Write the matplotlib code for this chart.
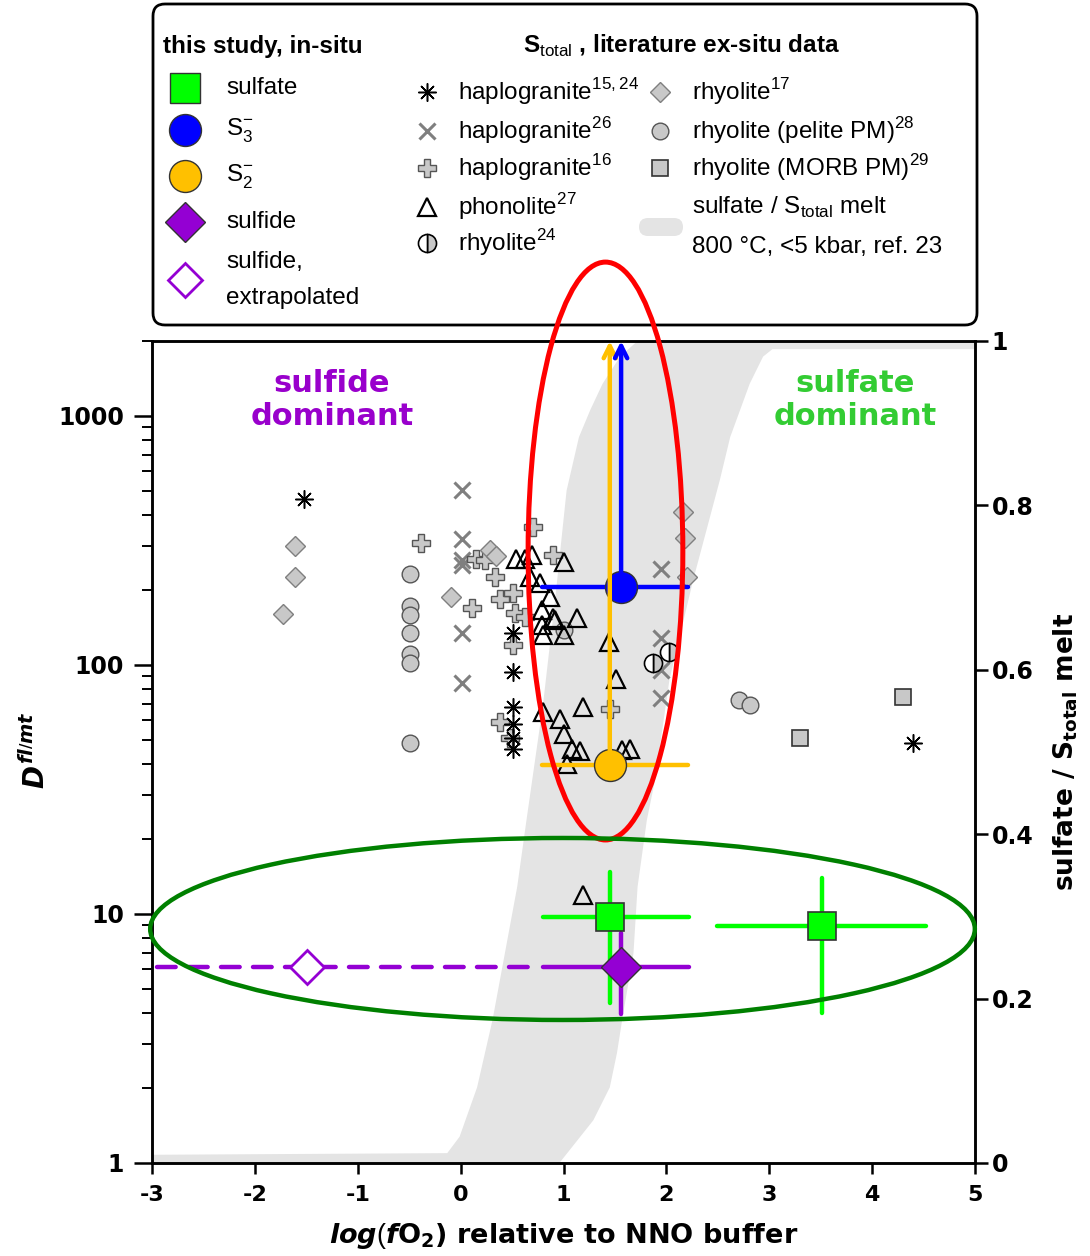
'''Sulfur fluid/melt partitioning vs oxygen fugacity (NNO buffer)'''

import matplotlib
matplotlib.use('Agg')
import matplotlib.pyplot as plt
from matplotlib import font_manager
from matplotlib.patches import Ellipse, FancyBboxPatch

# fonts: narrow sans for the legend if available
names = {f.name for f in font_manager.fontManager.ttflist}
if 'Liberation Sans Narrow' in names:
    LEG_FONT, LEG_SIZE = 'Liberation Sans Narrow', 21
else:
    LEG_FONT, LEG_SIZE = 'Liberation Sans', 17.5

plt.rcParams['mathtext.fontset'] = 'custom'
plt.rcParams['mathtext.rm'] = LEG_FONT
plt.rcParams['mathtext.it'] = 'DejaVu Sans:italic:bold'
plt.rcParams['mathtext.bf'] = 'DejaVu Sans:bold'

# ---- literature ex-situ data (log fO2 rel. NNO, D fl/mt) ----
hg1524_x = [-1.52, 0.51, 0.51, 0.51, 0.51, 0.51, 0.51, 4.40]
hg1524_y = [464, 135, 93.5, 68, 58, 51, 46, 48.6]

hg26_x = [0.01, 0.01, 0.01, 0.01, 0.01, 0.01, 1.95, 1.95, 1.95, 1.95]
hg26_y = [505, 321, 264, 252, 134, 84.5, 244, 128, 95.5, 73.5]

hg16_x = [-0.39, 0.15, 0.24, 0.33, 0.38, 0.51, 0.11, 0.53, 0.63, 0.51, 0.38, 0.48, 0.70, 0.90, 1.45]
hg16_y = [308, 266, 264, 225, 184, 194, 169, 161, 156, 120, 59, 51, 359, 277, 66.6]

phon_x = [0.54, 0.63, 0.69, 1.00, 0.67, 0.77, 0.87, 0.79, 0.90, 1.13, 0.79, 0.80, 1.00,
          1.44, 1.51, 1.19, 0.80, 0.97, 1.00, 1.08, 1.16, 1.57, 1.65, 1.03, 1.19, 0.92]
phon_y = [267, 267, 277, 258, 226, 213, 188, 166, 154, 154, 145, 132, 132,
          124, 87.6, 68, 65, 60.5, 53, 46, 45, 45.6, 45.9, 40, 11.9, 151]

rhy24_x = [1.87, 2.03]
rhy24_y = [102, 113]

rhy17_x = [-1.61, -1.61, -1.73, -0.09, 0.29, 0.34, 2.16, 2.18, 2.20]
rhy17_y = [301, 226, 160, 188, 290, 275, 413, 323, 225]

pel_x = [-0.49, -0.49, -0.49, -0.49, -0.49, -0.49, -0.49, 1.00, 2.71, 2.81]
pel_y = [231, 172, 159, 135, 111, 102, 48.5, 138, 72.3, 69]

morb_x = [4.30, 3.30]
morb_y = [74.6, 50.8]

# ---- this study, in-situ ----
s3_x, s3_y, s3_xlo, s3_xhi = 1.56, 206, 0.79, 2.21
s2_x, s2_y, s2_xlo, s2_xhi = 1.45, 39.7, 0.79, 2.21

sulfate_x = [1.45, 3.51]
sulfate_y = [9.7, 8.95]
sulfate_xlo = [0.80, 2.49]
sulfate_xhi = [2.22, 4.52]
sulfate_ylo = [4.38, 3.99]
sulfate_yhi = [14.8, 14.0]

sulfide_x, sulfide_y = 1.555, 6.14
sulfide_xlo, sulfide_xhi, sulfide_ylo, sulfide_yhi = 0.80, 2.22, 3.97, 8.41
extrap_x, extrap_y = -1.49, 6.14
extrap_xlo, extrap_xhi = -2.95, 0.67

# ---- sulfate / S_total melt band (ref. 23), right axis ----
band_left_x = [-3.0, -0.13, -0.01, 0.16, 0.31, 0.43, 0.55, 0.64, 0.80, 0.92, 1.03, 1.15, 1.26, 1.38, 1.55, 1.72]
band_left_f = [0.010, 0.012, 0.032, 0.092, 0.174, 0.255, 0.336, 0.417, 0.557, 0.687, 0.818, 0.883, 0.916, 0.948, 0.981, 1.0]
band_right_x = [5.0, 3.03, 2.94, 2.81, 2.62, 2.52, 2.26, 2.03, 1.89, 1.81, 1.72, 1.68, 1.57, 1.52, 1.45, 1.29, 0.96]
band_right_f = [0.990, 0.990, 0.981, 0.948, 0.883, 0.831, 0.709, 0.588, 0.466, 0.417, 0.336, 0.255, 0.174, 0.134, 0.092, 0.052, 0.0]

xticks = [-3, -2, -1, 0, 1, 2, 3, 4, 5]
yticks = [1, 10, 100, 1000]
rticks = [0, 0.2, 0.4, 0.6, 0.8, 1.0]
rtick_labels = ['0', '0.2', '0.4', '0.6', '0.8', '1']

GRAY = '#C8C8C8'
GREEN = '#00FF00'
BLUE = '#0000FF'
ORANGE = '#FFC000'
PURPLE = '#9400D3'

W, H = 1090, 1256
fig = plt.figure(figsize=(W / 100, H / 100), dpi=100)

# legend canvas in pixel coordinates
lax = fig.add_axes([0, 0, 1, 1], zorder=0)
lax.set_xlim(0, W)
lax.set_ylim(H, 0)
lax.axis('off')

ax = fig.add_axes([152 / W, 1 - 1163 / H, 823 / W, 822 / H], zorder=2)
ax.patch.set_visible(False)
ax2 = ax.twinx()
ax2.set_zorder(1)

# gray band
poly_x = [-3.0] + band_left_x + [5.0] + band_right_x + [-3.0]
poly_f = [0.0] + band_left_f + [1.0] + band_right_f + [0.0]
ax2.fill(poly_x, poly_f, color='#E4E4E4', lw=0, zorder=0)
ax2.set_ylim(0, 1)

ax.set_xlim(-3, 5)
ax.set_yscale('log')
ax.set_ylim(1, 2000)

# literature data
ax.plot(hg26_x, hg26_y, 'x', ms=11, mew=2.2, color='#7F7F7F', ls='none')
ax.plot(hg16_x, hg16_y, 'P', ms=13, mfc=GRAY, mec='#555555', mew=1.0, ls='none')
ax.plot(rhy17_x, rhy17_y, 'D', ms=10, mfc=GRAY, mec='#7F7F7F', mew=1.0, ls='none')
ax.plot(pel_x, pel_y, 'o', ms=12, mfc=GRAY, mec='#555555', mew=1.0, ls='none')
ax.plot(morb_x, morb_y, 's', ms=11.5, mfc=GRAY, mec='#333333', mew=1.2, ls='none')
ax.plot(phon_x, phon_y, '^', ms=13.5, mfc='none', mec='black', mew=1.6, ls='none')
ax.plot(rhy24_x, rhy24_y, 'o', ms=13, fillstyle='right', mfc=GRAY, mfcalt='white',
        mec='black', mew=1.2, ls='none')
ax.plot(hg1524_x, hg1524_y, marker=(8, 2, 0), ms=13, mec='black', mew=1.1, ls='none')

lw = 3.2
# S2 / S3 (lower limits: arrows to top)
ax.plot([s2_xlo, s2_xhi], [s2_y, s2_y], color=ORANGE, lw=lw, solid_capstyle='round')
ax.annotate('', xy=(s2_x, 2000), xytext=(s2_x, s2_y),
            arrowprops=dict(arrowstyle='->', color=ORANGE, lw=lw, shrinkA=0, shrinkB=0,
                            mutation_scale=22))
ax.plot([s3_xlo, s3_xhi], [s3_y, s3_y], color=BLUE, lw=lw, solid_capstyle='round')
ax.annotate('', xy=(s3_x, 2000), xytext=(s3_x, s3_y),
            arrowprops=dict(arrowstyle='->', color=BLUE, lw=lw, shrinkA=0, shrinkB=0,
                            mutation_scale=22))
ax.plot([s2_x], [s2_y], 'o', ms=23, mfc=ORANGE, mec='#333333', mew=1.0)
ax.plot([s3_x], [s3_y], 'o', ms=23, mfc=BLUE, mec='#333333', mew=1.0)

# sulfate
for i in range(len(sulfate_x)):
    ax.plot([sulfate_xlo[i], sulfate_xhi[i]], [sulfate_y[i], sulfate_y[i]], color=GREEN, lw=lw,
            solid_capstyle='round')
    ax.plot([sulfate_x[i], sulfate_x[i]], [sulfate_ylo[i], sulfate_yhi[i]], color=GREEN, lw=lw,
            solid_capstyle='round')

# sulfide
ax.plot([sulfide_xlo, sulfide_xhi], [sulfide_y, sulfide_y], color=PURPLE, lw=lw, solid_capstyle='round')
ax.plot([sulfide_x, sulfide_x], [sulfide_ylo, sulfide_yhi], color=PURPLE, lw=lw, solid_capstyle='round')
ax.plot([extrap_xlo, extrap_xhi], [extrap_y, extrap_y], color=PURPLE, lw=lw, ls=(0, (4.2, 3.0)),
        dash_capstyle='round')
ax.plot(sulfate_x, sulfate_y, 's', ms=20, mfc=GREEN, mec='#333333', mew=1.2, ls='none')
ax.plot([sulfide_x], [sulfide_y], 'D', ms=20, mfc=PURPLE, mec='#333333', mew=1.0)
ax.plot([extrap_x], [extrap_y], 'D', ms=17, mfc='white', mec=PURPLE, mew=2.0)

# highlight ellipses
ax.add_patch(Ellipse((0.551, 0.7445), 0.188, 0.703, transform=ax.transAxes, fill=False,
                     ec='#FF0000', lw=3.6, clip_on=False, zorder=10))
ax.add_patch(Ellipse((0.4988, 0.2847), 1.002, 0.2214, transform=ax.transAxes, fill=False,
                     ec='#008000', lw=3.2, clip_on=False, zorder=10))

ax.text(0.2187, 0.928, 'sulfide\ndominant', transform=ax.transAxes, ha='center', va='center',
        color='#9900CC', fontsize=22, fontweight='bold', linespacing=1.15)
ax.text(0.854, 0.928, 'sulfate\ndominant', transform=ax.transAxes, ha='center', va='center',
        color='#33CC33', fontsize=22, fontweight='bold', linespacing=1.15)

# axes styling
for a in (ax, ax2):
    for s in a.spines.values():
        s.set_linewidth(1.8)
ax.set_xticks(xticks)
ax.set_xticklabels([str(t) for t in xticks])
ax.set_yticks(yticks)
ax.set_yticklabels([str(t) for t in yticks])
ax.tick_params(axis='x', direction='out', length=8, width=1.8, labelsize=16, pad=8)
ax.tick_params(axis='y', which='major', direction='out', length=13, width=1.8, labelsize=17, pad=7)
ax.tick_params(axis='y', which='minor', direction='out', length=7, width=1.4)
ax2.set_yticks(rticks)
ax2.set_yticklabels(rtick_labels)
ax2.tick_params(axis='y', direction='out', length=9, width=1.8, labelsize=17, pad=3)
for lab in ax.get_xticklabels() + ax.get_yticklabels() + ax2.get_yticklabels():
    lab.set_fontweight('bold')

fig.text(564 / W, 1 - 1236 / H, r'$\mathit{log(f}$O$_\mathbf{2}$) relative to NNO buffer',
         ha='center', va='center', fontsize=19.5, fontweight='bold')
fig.text(36 / W, 1 - 750 / H, r'$D^{fl/mt}$', rotation=90, ha='center', va='center', fontsize=20)
fig.text(1066 / W, 1 - 752 / H, r'sulfate / S$_\mathbf{total}$ melt', rotation=90,
         ha='center', va='center', fontsize=19, fontweight='bold')

# ---- legend ----
lax.add_patch(FancyBboxPatch((153, 4), 824, 321, boxstyle='round,pad=0,rounding_size=12',
                             fc='white', ec='black', lw=2))
lkw = dict(va='center', ha='left', fontsize=LEG_SIZE, family=LEG_FONT)
lax.text(163, 46, 'this study, in-situ', fontweight='bold', **lkw)
lax.text(523, 46, r'S$_\mathrm{total}$ , literature ex-situ data', fontweight='bold', **lkw)

lax.plot([185], [88], 's', ms=21, mfc=GREEN, mec='#333333', mew=1.0)
lax.plot([185], [130], 'o', ms=23, mfc=BLUE, mec='#333333', mew=1.0)
lax.plot([185], [176], 'o', ms=23, mfc=ORANGE, mec='#333333', mew=1.0)
lax.plot([185], [222], 'D', ms=20, mfc=PURPLE, mec='#333333', mew=1.0)
lax.plot([185], [280], 'D', ms=17, mfc='white', mec=PURPLE, mew=2.0)
lax.text(226, 88, 'sulfate', **lkw)
lax.text(226, 130, r'S$_3^{-}$', **lkw)
lax.text(226, 176, r'S$_2^{-}$', **lkw)
lax.text(226, 222, 'sulfide', **lkw)
lax.text(226, 262, 'sulfide,', **lkw)
lax.text(226, 298, 'extrapolated', **lkw)

lax.plot([427], [92], marker=(8, 2, 0), ms=13, mec='black', mew=1.1)
lax.plot([427], [131], 'x', ms=11, mew=2.2, color='#7F7F7F')
lax.plot([427], [168], 'P', ms=13, mfc=GRAY, mec='#555555', mew=1.0)
lax.plot([427], [207], '^', ms=13.5, mfc='none', mec='black', mew=1.6)
lax.plot([427], [243], 'o', ms=13, fillstyle='right', mfc=GRAY, mfcalt='white', mec='black', mew=1.2)
lax.text(458, 92, r'haplogranite$^{15,24}$', **lkw)
lax.text(458, 131, r'haplogranite$^{26}$', **lkw)
lax.text(458, 168, r'haplogranite$^{16}$', **lkw)
lax.text(458, 207, r'phonolite$^{27}$', **lkw)
lax.text(458, 243, r'rhyolite$^{24}$', **lkw)

lax.plot([660], [92], 'D', ms=10, mfc=GRAY, mec='#7F7F7F', mew=1.0)
lax.plot([660], [131], 'o', ms=12, mfc=GRAY, mec='#555555', mew=1.0)
lax.plot([660], [168], 's', ms=11.5, mfc=GRAY, mec='#333333', mew=1.2)
lax.add_patch(FancyBboxPatch((639, 218), 44, 18, boxstyle='round,pad=0,rounding_size=9',
                             fc='#E4E4E4', ec='none'))
lax.text(692, 92, r'rhyolite$^{17}$', **lkw)
lax.text(692, 131, r'rhyolite (pelite PM)$^{28}$', **lkw)
lax.text(692, 168, r'rhyolite (MORB PM)$^{29}$', **lkw)
lax.text(692, 207, r'sulfate / S$_\mathrm{total}$ melt', **lkw)
lax.text(692, 247, '800 °C, <5 kbar, ref. 23', **lkw)

fig.savefig('out.png', dpi=100)
